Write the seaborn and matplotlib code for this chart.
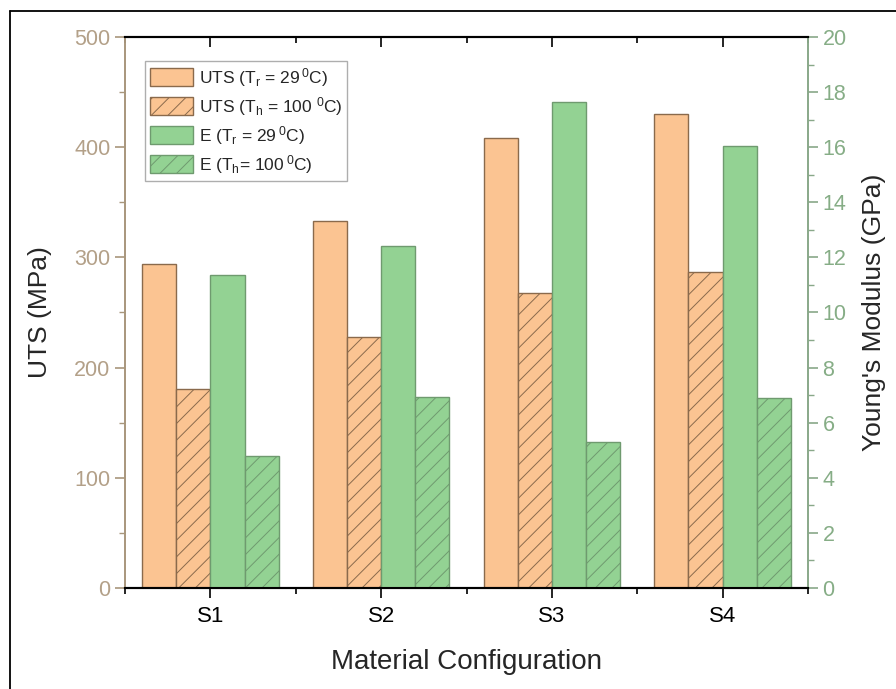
import numpy as np
import pandas as pd
import matplotlib
matplotlib.use("Agg")
import matplotlib.pyplot as plt
from matplotlib.lines import Line2D
from matplotlib.ticker import MultipleLocator
import seaborn as sns

# data
configs = ["S1", "S2", "S3", "S4"]
uts_room = [294, 333, 408, 430]      # MPa, Tr = 29 C
uts_hot = [181, 228, 268, 287]       # MPa, Th = 100 C
e_room = [11.35, 12.4, 17.65, 16.05]  # GPa
e_hot = [4.8, 6.95, 5.3, 6.9]         # GPa

labels = [r"UTS (T$_r$ = 29$\,^0$C)",
          r"UTS (T$_h$ = 100 $^0$C)",
          r"E (T$_r$ = 29$\,^0$C)",
          r"E (T$_h$= 100$\,^0$C)"]

uts_df = pd.DataFrame({
    "config": configs * 2,
    "series": [labels[0]] * 4 + [labels[1]] * 4,
    "value": uts_room + uts_hot,
})
e_df = pd.DataFrame({
    "config": configs * 2,
    "series": [labels[2]] * 4 + [labels[3]] * 4,
    "value": e_room + e_hot,
})

orange = "#fbc492"
green = "#93d293"
orange_edge = "#8a6a4c"
green_edge = "#6f9a6f"
palette = {labels[0]: orange, labels[1]: orange, labels[2]: green, labels[3]: green}
edges = {labels[0]: orange_edge, labels[1]: orange_edge, labels[2]: green_edge, labels[3]: green_edge}
hatched = {labels[1], labels[3]}

sns.set_style("ticks")
plt.rcParams["font.family"] = ["Liberation Sans", "DejaVu Sans"]
plt.rcParams["mathtext.default"] = "regular"
plt.rcParams["hatch.linewidth"] = 0.7

fig = plt.figure(figsize=(8.96, 6.89), dpi=100)
ax1 = fig.add_axes([0.1395, 0.1466, 0.7623, 0.7997])
ax2 = ax1.twinx()

sns.barplot(data=uts_df, x="config", y="value", hue="series", hue_order=labels,
            palette=palette, width=0.8, legend=False, ax=ax1, saturation=1)
sns.barplot(data=e_df, x="config", y="value", hue="series", hue_order=labels,
            palette=palette, width=0.8, legend=False, ax=ax2, saturation=1)

handles = []
for ax, labs in ((ax1, labels[:2]), (ax2, labels[2:])):
    filled = [c for c in ax.containers if len(c) > 0]
    for cont, lab in zip(filled, labs):
        for bar in cont:
            bar.set_edgecolor(edges[lab])
            bar.set_linewidth(1.0)
            if lab in hatched:
                bar.set_hatch("//")
        handles.append(cont)

ax1.set_xlim(-0.5, 3.5)
ax1.set_ylim(0, 500)
ax2.set_ylim(0, 20)

tan = "#a8967c"
tan_lab = "#b3a088"
grn = "#89a889"
grn_lab = "#86ad86"

ax1.yaxis.set_major_locator(MultipleLocator(100))
ax1.yaxis.set_minor_locator(MultipleLocator(50))
ax2.yaxis.set_major_locator(MultipleLocator(2))
ax2.yaxis.set_minor_locator(MultipleLocator(1))
ax1.xaxis.set_minor_locator(MultipleLocator(0.5))
ax1.set_xticks(range(4))
ax1.set_xticklabels(configs)

ax1.tick_params(axis="x", which="both", direction="out", top=True, labelsize=16,
                colors="black", length=7, width=1.2, pad=6)
ax1.tick_params(axis="x", which="minor", length=4)
ax1.tick_params(axis="y", which="major", direction="out", length=7, width=1.2,
                labelsize=15.5, color=tan, labelcolor=tan_lab)
ax1.tick_params(axis="y", which="minor", direction="out", length=4, width=1, color=tan)
ax2.tick_params(axis="y", which="major", direction="out", length=7, width=1.2,
                labelsize=15.5, color=grn, labelcolor=grn_lab)
ax2.tick_params(axis="y", which="minor", direction="out", length=4, width=1, color=grn)

for ax in (ax1, ax2):
    ax.spines["top"].set_visible(True)
    ax.spines["top"].set_color("black")
    ax.spines["top"].set_linewidth(1.5)
    ax.spines["bottom"].set_color("black")
    ax.spines["bottom"].set_linewidth(1.5)
    ax.spines["left"].set_color(tan)
    ax.spines["left"].set_linewidth(1.2)
    ax.spines["right"].set_color(grn)
    ax.spines["right"].set_linewidth(1.2)
    ax.spines["right"].set_visible(True)

# top ticks point inward
for t in ax1.xaxis.get_major_ticks() + ax1.xaxis.get_minor_ticks():
    t.tick2line.set_marker(3)

ax1.set_xlabel("Material Configuration", fontsize=20, labelpad=16)
ax1.set_ylabel("UTS (MPa)", fontsize=19, labelpad=16)
ax2.set_ylabel("Young's Modulus (GPa)", fontsize=19, labelpad=11)

leg = ax2.legend(handles, labels, loc="upper left", bbox_to_anchor=(0.029, 0.957),
                 fontsize=12.5, frameon=True, fancybox=False, edgecolor="#9a9a9a",
                 handlelength=2.45, handleheight=1.2, labelspacing=0.35,
                 borderpad=0.3, borderaxespad=0, handletextpad=0.35)
leg.get_frame().set_linewidth(1.0)

# partial outer frame seen in the figure
fig.add_artist(Line2D([10 / 896, 10 / 896], [0, 1 - 11 / 689], color="black", lw=1.3))
fig.add_artist(Line2D([10 / 896, 1], [1 - 11 / 689, 1 - 11 / 689], color="black", lw=1.3))

fig.savefig("out.png", dpi=100)
